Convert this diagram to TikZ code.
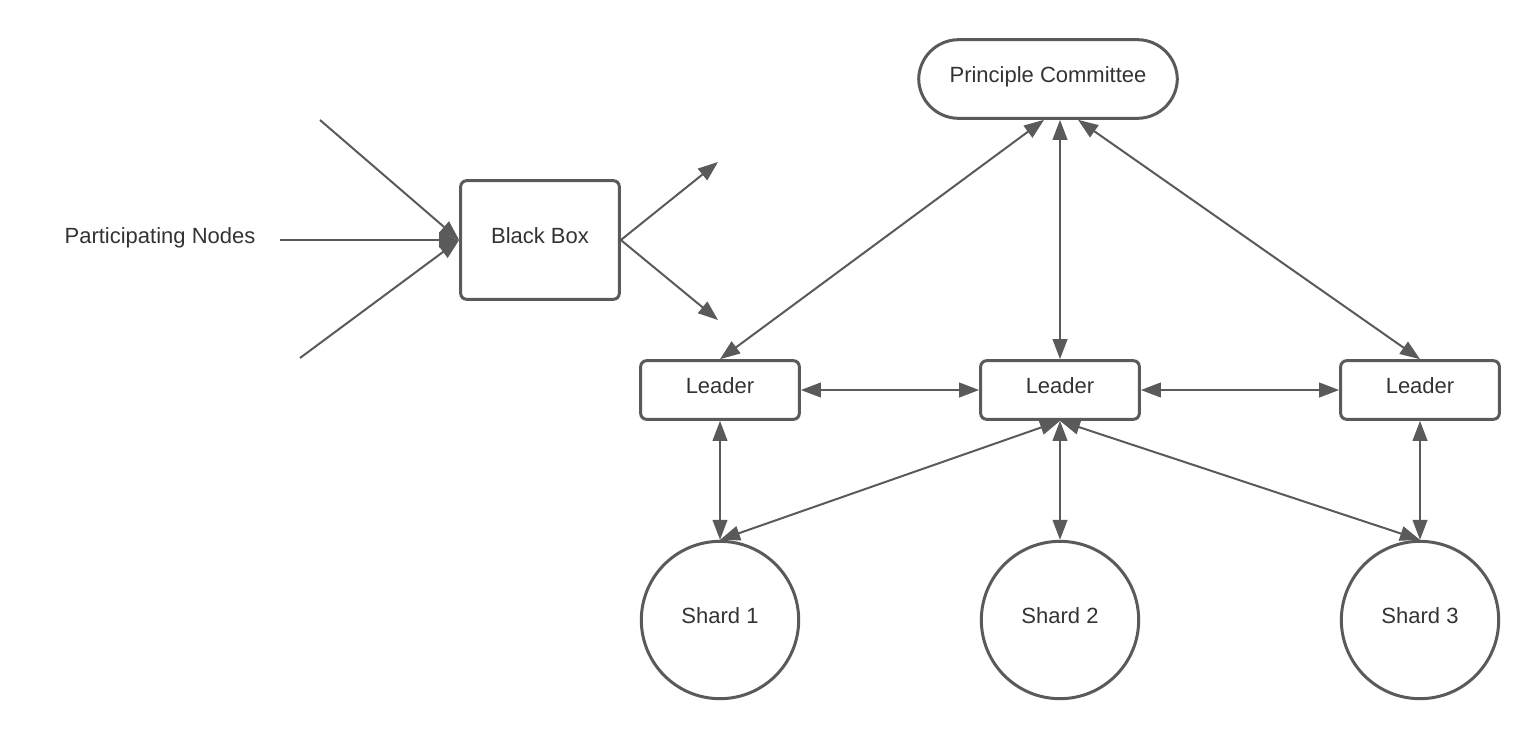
\documentclass[tikz,border=0pt]{standalone}
\usepackage{fontspec}
\setmainfont{Liberation Sans}
\usetikzlibrary{arrows.meta,calc}
\definecolor{linegray}{RGB}{90,90,90}
\definecolor{textgray}{RGB}{51,51,51}
\tikzset{
  shapebox/.style={draw=linegray, line width=2.25pt, fill=white, rounded corners=4.5pt, inner sep=0pt, text=textgray, text height=0.72em, text depth=0.24em},
  shardcircle/.style={draw=linegray, line width=2.25pt, circle, inner sep=0pt, minimum size=118pt, text=textgray, text height=0.72em, text depth=0.24em},
  conn/.style={draw=linegray, line width=1.5pt, -{Triangle[length=15pt,width=11pt]}},
  twoway/.style={draw=linegray, line width=1.5pt, {Triangle[length=15pt,width=11pt]}-{Triangle[length=15pt,width=11pt]}},
}
\begin{document}
\begin{tikzpicture}[x=0.75pt,y=0.75pt,yscale=-1,xscale=1,font=\fontsize{16.5}{20}\selectfont]
\useasboundingbox (0,0) rectangle (1540,740); %picture is 1540 by 740

%Rounded Rect
\node[shapebox, minimum width=119pt, minimum height=89pt] (bb) at (540,240) {Black Box};
%Rounded Rect
\node[shapebox, rounded corners=30pt, minimum width=194pt, minimum height=59pt] (pc) at (1048,79) {Principle Committee};
%Rounded Rect
\node[shapebox, minimum width=119pt, minimum height=44pt] (ld1) at (720,390) {Leader};
%Rounded Rect
\node[shapebox, minimum width=119pt, minimum height=44pt] (ld2) at (1060,390) {Leader};
%Rounded Rect
\node[shapebox, minimum width=119pt, minimum height=44pt] (ld3) at (1420,390) {Leader};
%Shape: Circle
\node[shardcircle] (sh1) at (720,620) {Shard 1};
%Shape: Circle
\node[shardcircle] (sh2) at (1060,620) {Shard 2};
%Shape: Circle
\node[shardcircle] (sh3) at (1420,620) {Shard 3};

% Text Node
\node[text=textgray] (pn) at (160,238) {Participating Nodes};

%free ends
\coordinate (in1) at (320,120);
\coordinate (in2) at (280,240);
\coordinate (in3) at (300,358);
\coordinate (out1) at (718,162);
\coordinate (out2) at (718,320);

%Straight Lines
\draw[conn] (in1) -- (bb.west);
\draw[conn] (in2) -- (bb.west);
\draw[conn] (in3) -- (bb.west);
\draw[conn] (bb.east) -- (out1);
\draw[conn] (bb.east) -- (out2);

%Straight Lines
\draw[twoway] (ld1.north) -- ([xshift=-3pt]pc.south);
\draw[twoway] (ld2.north) -- (ld2.north |- pc.south);
\draw[twoway] (ld3.north) -- ([xshift=22.5pt]pc.south);
\draw[twoway] (ld1.east) -- (ld2.west);
\draw[twoway] (ld2.east) -- (ld3.west);

%Straight Lines
\draw[twoway] (ld1.south) -- (sh1.north);
\draw[twoway] (ld2.south) -- (sh1.north);
\draw[twoway] (ld2.south) -- (sh2.north);
\draw[twoway] (ld2.south) -- (sh3.north);
\draw[twoway] (ld3.south) -- (sh3.north);

\end{tikzpicture}
\end{document}
